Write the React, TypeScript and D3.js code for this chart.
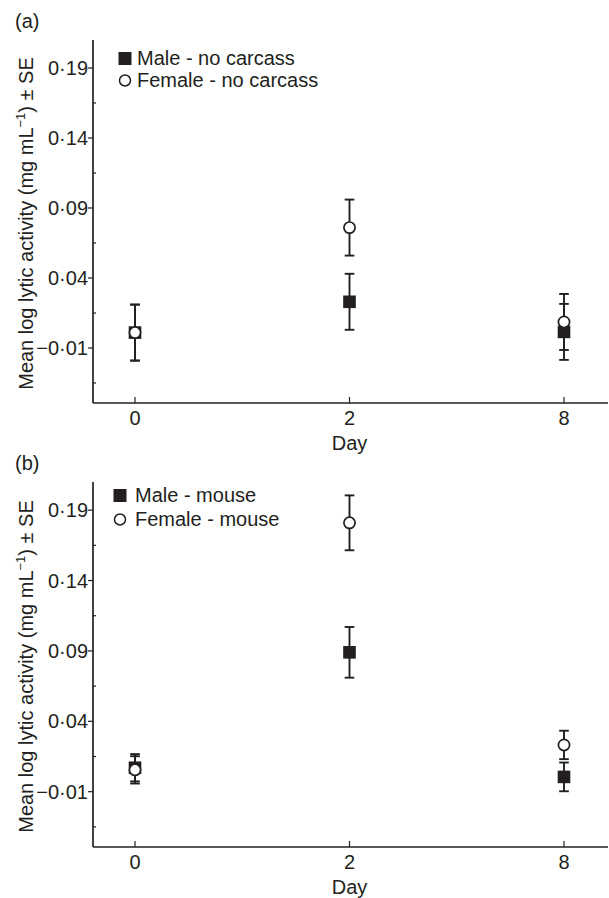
import React from "react";
import * as d3 from "d3";

const days = ["0", "2", "8"];
const yTicksMajor = [-0.01, 0.04, 0.09, 0.14, 0.19];
const yTicksMinor = [-0.035, 0.015, 0.065, 0.115, 0.165];

const aMaleMean = [0.001, 0.023, 0.0015];
const aMaleSE = [0.02, 0.02, 0.02];
const aFemaleMean = [0.001, 0.076, 0.0086];
const aFemaleSE = [0.02, 0.02, 0.02];
const aLegend = ["Male - no carcass", "Female - no carcass"];

const bMaleMean = [0.007, 0.089, 0.0005];
const bMaleSE = [0.0097, 0.018, 0.0102];
const bFemaleMean = [0.0055, 0.181, 0.0232];
const bFemaleSE = [0.0097, 0.0195, 0.0101];
const bLegend = ["Male - mouse", "Female - mouse"];

const INK = "#231f20";
const FONT = "'Liberation Sans', Arial, Helvetica, sans-serif";
const fmt = (v: number) => d3.format(".2f")(v).replace(".", "·");

type PanelProps = {
  top: number;
  bottom: number;
  letter: string;
  legend: string[];
  legendMarkerX: number;
  legendTextX: number;
  legendRow0: number;
  legendRow1: number;
  maleMean: number[];
  maleSE: number[];
  femaleMean: number[];
  femaleSE: number[];
};

function Panel(p: PanelProps) {
  const left = 93;
  const right = 608;
  const y = d3.scaleLinear().domain([-0.0493, 0.21]).range([p.bottom, p.top]);
  const x = d3.scalePoint<string>().domain(days).range([135, 564]);
  const cap = 4.8;
  const fs = 20;
  const errBar = (m: number[], se: number[], key: string) =>
    days.map((d, i) => {
      const cx = x(d)!;
      const y1 = y(m[i] + se[i]);
      const y2 = y(m[i] - se[i]);
      return (
        <g key={key + d} stroke={INK} strokeWidth={1.9}>
          <line x1={cx} x2={cx} y1={y1} y2={y2} />
          <line x1={cx - cap} x2={cx + cap} y1={y1} y2={y1} />
          <line x1={cx - cap} x2={cx + cap} y1={y2} y2={y2} />
        </g>
      );
    });
  const midY = (p.top + p.bottom) / 2 + 2;
  const r0 = p.top + p.legendRow0;
  const r1 = p.top + p.legendRow1;
  return (
    <g>
      <text x={15} y={p.top - 12} fontSize={fs} fontFamily={FONT} fill={INK}>
        {p.letter}
      </text>
      {/* axes */}
      <line x1={left} x2={left} y1={p.top} y2={p.bottom} stroke={INK} strokeWidth={1.7} />
      <line x1={left} x2={right} y1={p.bottom} y2={p.bottom} stroke={INK} strokeWidth={1.7} />
      {yTicksMajor.map((t) => (
        <g key={"M" + t}>
          <line x1={left - 5} x2={left} y1={y(t)} y2={y(t)} stroke={INK} strokeWidth={1.2} />
          <text
            x={left - 5}
            y={y(t)}
            dy="0.36em"
            textAnchor="end"
            fontSize={fs}
            fontFamily={FONT}
            fill={INK}
          >
            {fmt(t)}
          </text>
        </g>
      ))}
      {yTicksMinor.map((t) => (
        <line key={"m" + t} x1={left} x2={left + 3} y1={y(t)} y2={y(t)} stroke={INK} strokeWidth={1.2} />
      ))}
      {days.map((d) => (
        <g key={"x" + d}>
          <line x1={x(d)} x2={x(d)} y1={p.bottom} y2={p.bottom - 6} stroke={INK} strokeWidth={1.2} />
          <text
            x={x(d)}
            y={p.bottom + 22}
            textAnchor="middle"
            fontSize={fs}
            fontFamily={FONT}
            fill={INK}
          >
            {d}
          </text>
        </g>
      ))}
      <text
        x={(x("2") as number)}
        y={p.bottom + 47}
        textAnchor="middle"
        fontSize={fs}
        fontFamily={FONT}
        fill={INK}
      >
        Day
      </text>
      <text
        transform={`translate(33,${midY}) rotate(-90)`}
        textAnchor="middle"
        fontSize={fs}
        fontFamily={FONT}
        fill={INK}
      >
        Mean log lytic activity (mg mL
        <tspan dy={-8} fontSize={13}>−1</tspan>
        <tspan dy={8}>) ± SE</tspan>
      </text>
      {/* legend */}
      <rect x={p.legendMarkerX - 6.5} y={r0 - 13} width={13} height={13} fill={INK} />
      <text x={p.legendTextX} y={r0} fontSize={fs} fontFamily={FONT} fill={INK}>
        {p.legend[0]}
      </text>
      <circle cx={p.legendMarkerX} cy={r1 - 6.5} r={5.5} fill="#fff" stroke={INK} strokeWidth={1.5} />
      <text x={p.legendTextX} y={r1} fontSize={fs} fontFamily={FONT} fill={INK}>
        {p.legend[1]}
      </text>
      {/* error bars */}
      {errBar(p.maleMean, p.maleSE, "me")}
      {errBar(p.femaleMean, p.femaleSE, "fe")}
      {/* markers */}
      {days.map((d, i) => (
        <rect
          key={"ms" + d}
          x={x(d)! - 6.3}
          y={y(p.maleMean[i]) - 6.3}
          width={12.6}
          height={12.6}
          fill={INK}
        />
      ))}
      {days.map((d, i) => (
        <circle
          key={"fc" + d}
          cx={x(d)}
          cy={y(p.femaleMean[i])}
          r={5.6}
          fill="#fff"
          stroke={INK}
          strokeWidth={1.7}
        />
      ))}
    </g>
  );
}

export default function App() {
  return (
    <svg
      width={609}
      height={898}
      style={{ position: "absolute", left: 0, top: 0, background: "#fff" }}
    >
      <rect width={609} height={898} fill="#fff" />
      <Panel
        top={40}
        bottom={403}
        letter="(a)"
        legend={aLegend}
        legendMarkerX={125}
        legendTextX={137}
        legendRow0={25}
        legendRow1={47}
        maleMean={aMaleMean}
        maleSE={aMaleSE}
        femaleMean={aFemaleMean}
        femaleSE={aFemaleSE}
      />
      <Panel
        top={482}
        bottom={847}
        letter="(b)"
        legend={bLegend}
        legendMarkerX={120}
        legendTextX={135}
        legendRow0={20}
        legendRow1={44}
        maleMean={bMaleMean}
        maleSE={bMaleSE}
        femaleMean={bFemaleMean}
        femaleSE={bFemaleSE}
      />
    </svg>
  );
}
